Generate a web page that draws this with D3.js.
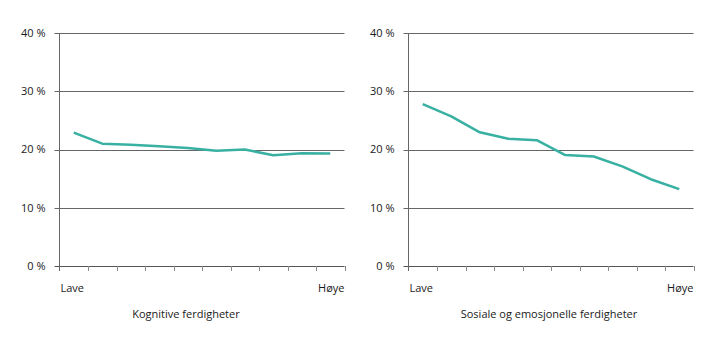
<!DOCTYPE html>
<html><head><meta charset="utf-8">
<script src="https://cdn.jsdelivr.net/npm/d3@7"></script>
<style>body{margin:0;background:#fff}svg{display:block}text{font-family:"Open Sans",sans-serif;fill:#1a1a1a}</style>
</head><body><svg id="c" width="719" height="341"></svg>
<script>
const groups = [1,2,3,4,5,6,7,8,9,10];
const cognitive = [22.9,21.0,20.8,20.55,20.25,19.8,20.0,19.0,19.35,19.3];
const social = [27.8,25.7,22.95,21.85,21.6,19.05,18.8,17.1,14.9,13.2];
const yTicks = [0,10,20,30,40];
const panels = [
  {values: cognitive, title: "Kognitive ferdigheter", x0: 59.5, x1: 344.5, titleX: 186},
  {values: social, title: "Sosiale og emosjonelle ferdigheter", x0: 408.5, x1: 693.5, titleX: 549}
];
const svg = d3.select("#c");
const y = d3.scaleLinear().domain([0,40]).range([266,33]);
panels.forEach(p => {
  const x = d3.scaleBand().domain(groups).range([p.x0, p.x1]);
  const g = svg.append("g");
  // gridlines
  g.selectAll(".grid").data(yTicks).join("line")
    .attr("x1", p.x0 - 5).attr("x2", p.x1)
    .attr("y1", d => Math.round(y(d)) + 0.5).attr("y2", d => Math.round(y(d)) + 0.5)
    .attr("stroke", d => d === 0 ? "#555" : "#666").attr("stroke-width", 1);
  g.selectAll(".yl").data(yTicks).join("text")
    .attr("x", p.x0 - 14).attr("y", d => y(d)).attr("dy", "0.35em")
    .attr("text-anchor", "end").attr("font-size", 11)
    .text(d => d + " %");
  // y axis line
  g.append("line").attr("x1", p.x0).attr("x2", p.x0).attr("y1", y(40)).attr("y2", Math.round(y(0)) + 5)
    .attr("stroke", "#666");
  // x ticks at band boundaries
  const bounds = groups.map(d => x(d)).concat([p.x1]);
  g.selectAll(".xt").data(bounds.slice(1)).join("line")
    .attr("x1", d => Math.round(d) + 0.5).attr("x2", d => Math.round(d) + 0.5)
    .attr("y1", Math.round(y(0))).attr("y2", Math.round(y(0)) + 5)
    .attr("stroke", "#888");
  // line
  const line = d3.line().x((d,i) => x(groups[i]) + x.bandwidth()/2).y(d => y(d));
  g.append("path").datum(p.values).attr("d", line)
    .attr("fill", "none").attr("stroke", "#38b0a2").attr("stroke-width", 2.5).attr("stroke-linejoin", "round");
  g.append("text").attr("x", p.x0 + 1).attr("y", 292).attr("font-size", 11).text("Lave");
  g.append("text").attr("x", p.x1).attr("y", 292).attr("text-anchor", "end").attr("font-size", 11).text("Høye");
  g.append("text").attr("x", p.titleX).attr("y", 318).attr("text-anchor", "middle").attr("font-size", 11).text(p.title);
});
</script></body></html>
